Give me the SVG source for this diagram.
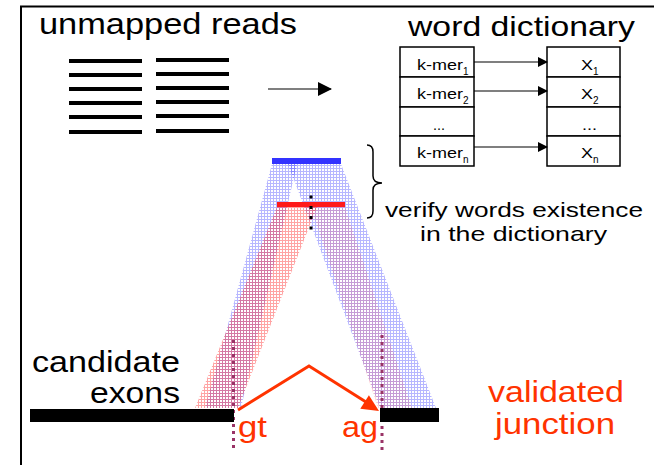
<svg xmlns="http://www.w3.org/2000/svg" width="654" height="465" viewBox="0 0 654 465">
<style>
.t{font-family:"Liberation Sans",Arial,sans-serif;fill:#000}
.r{fill:#ff3300}
.box{fill:#fff;stroke:#000;stroke-width:1.5}
.read{stroke:#000;stroke-width:4}
.ln{stroke:#000;stroke-width:1.2;fill:none}
.pd{stroke:#993366;stroke-width:3;stroke-dasharray:3 4;fill:none}
</style>
<defs>
<pattern id="hb" width="3" height="3" patternUnits="userSpaceOnUse"><path d="M0 0.5H3M0.5 0V3" stroke="#3030ff" stroke-width="1" opacity="0.35"/></pattern>
<pattern id="hr" width="3" height="3" patternUnits="userSpaceOnUse"><path d="M0 0.5H3M0.5 0V3" stroke="#ff1a1a" stroke-width="1" opacity="0.4"/></pattern>
<pattern id="hp" width="3" height="3" patternUnits="userSpaceOnUse"><path d="M0 0.5H3M0.5 0V3" stroke="#ff3030" stroke-width="1" opacity="0.2"/></pattern>
<marker id="ah" markerWidth="10" markerHeight="10" refX="9" refY="5" orient="auto" markerUnits="userSpaceOnUse"><path d="M0,0 L10,5 L0,10 Z" fill="#000"/></marker>
<marker id="ah2" markerWidth="14" markerHeight="14" refX="13" refY="7" orient="auto" markerUnits="userSpaceOnUse"><path d="M0,0 L14,7 L0,14 Z" fill="#000"/></marker>
</defs>

<g id="frame">
<line x1="21" y1="6" x2="21" y2="465" stroke="#000" stroke-width="2"/>
<line x1="20" y1="6.5" x2="654" y2="6.5" stroke="#000" stroke-width="2"/>
</g>

<g id="unmapped-reads">
<text class="t" x="39" y="34" font-size="29" textLength="258" lengthAdjust="spacingAndGlyphs">unmapped reads</text>
<g class="read">
<line x1="69" y1="61" x2="142" y2="61"/><line x1="69" y1="75" x2="142" y2="75"/><line x1="69" y1="89" x2="142" y2="89"/>
<line x1="69" y1="103" x2="142" y2="103"/><line x1="69" y1="117" x2="142" y2="117"/><line x1="69" y1="132" x2="142" y2="132"/>
<line x1="156" y1="60" x2="229" y2="60"/><line x1="156" y1="74" x2="229" y2="74"/><line x1="156" y1="88" x2="229" y2="88"/>
<line x1="156" y1="102" x2="229" y2="102"/><line x1="156" y1="116" x2="229" y2="116"/><line x1="156" y1="131" x2="229" y2="131"/>
</g>
</g>

<g id="word-dictionary">
<text class="t" x="408" y="36" font-size="28" textLength="227" lengthAdjust="spacingAndGlyphs">word dictionary</text>
<rect class="box" x="400" y="47" width="74" height="30"/>
<rect class="box" x="400" y="77" width="74" height="30"/>
<rect class="box" x="400" y="107" width="74" height="29"/>
<rect class="box" x="400" y="136" width="74" height="30"/>
<rect class="box" x="547" y="47" width="73" height="30"/>
<rect class="box" x="547" y="77" width="73" height="30"/>
<rect class="box" x="547" y="107" width="73" height="29"/>
<rect class="box" x="547" y="136" width="73" height="30"/>
<g class="t" font-size="15">
<text x="417" y="70" textLength="46" lengthAdjust="spacingAndGlyphs">k-mer</text><text x="463" y="75" font-size="10">1</text>
<text x="417" y="99" textLength="46" lengthAdjust="spacingAndGlyphs">k-mer</text><text x="463" y="104" font-size="10">2</text>
<text x="433" y="130" textLength="12" lengthAdjust="spacingAndGlyphs">...</text>
<text x="417" y="158" textLength="46" lengthAdjust="spacingAndGlyphs">k-mer</text><text x="463" y="163" font-size="10">n</text>
<text x="581" y="70" textLength="12" lengthAdjust="spacingAndGlyphs">X</text><text x="593" y="75" font-size="10">1</text>
<text x="581" y="99" textLength="12" lengthAdjust="spacingAndGlyphs">X</text><text x="593" y="104" font-size="10">2</text>
<text x="582" y="130" textLength="15" lengthAdjust="spacingAndGlyphs">...</text>
<text x="581" y="158" textLength="12" lengthAdjust="spacingAndGlyphs">X</text><text x="593" y="163" font-size="10">n</text>
</g>
</g>

<g id="projection">
<polygon points="272,164 297,164 241,408 205,408" fill="url(#hb)"/>
<polygon points="288,164 341,164 436,408 380,408" fill="url(#hb)"/>
<polygon points="277,207 317,207 238,408 195,408" fill="url(#hr)"/>
<polygon points="311,207 345,207 412,408 378,408" fill="url(#hp)"/>
</g>

<g id="read-bars">
<rect x="272" y="158" width="69" height="6" fill="#3333ff"/>
<rect x="277" y="202" width="68" height="5" fill="#ff1a1a"/>
<g fill="#000">
<rect x="309.5" y="195.5" width="3" height="3"/>
<rect x="309.5" y="206" width="3" height="3"/>
<rect x="309.5" y="216" width="3" height="3"/>
<rect x="309.5" y="226.5" width="3" height="3"/>
</g>
</g>

<g id="brace">
<path d="M367,145 Q373,145 373,152 L373,176 Q373,183 382,183 Q373,183 373,190 L373,211 Q373,218 367,218" fill="none" stroke="#000" stroke-width="1.5"/>
<text class="t" x="385" y="217" font-size="21" textLength="258" lengthAdjust="spacingAndGlyphs">verify words existence</text>
<text class="t" x="420" y="241" font-size="21" textLength="187" lengthAdjust="spacingAndGlyphs">in the dictionary</text>
</g>

<g id="exons">
<line class="pd" x1="233.5" y1="340" x2="233.5" y2="452"/>
<line class="pd" x1="382" y1="335" x2="382" y2="452"/>
<rect x="30" y="409" width="204" height="13" fill="#000"/>
<rect x="380" y="408" width="59" height="14" fill="#000"/>
<text class="t" x="32" y="372" font-size="30" textLength="148" lengthAdjust="spacingAndGlyphs">candidate</text>
<text class="t" x="90" y="403" font-size="30" textLength="90" lengthAdjust="spacingAndGlyphs">exons</text>
<text class="t r" x="238" y="437" font-size="30" textLength="29" lengthAdjust="spacingAndGlyphs">gt</text>
<text class="t r" x="342" y="437" font-size="30" textLength="36" lengthAdjust="spacingAndGlyphs">ag</text>
</g>

<g id="junction">
<text class="t r" x="488" y="402" font-size="30" textLength="136" lengthAdjust="spacingAndGlyphs">validated</text>
<text class="t r" x="495" y="434" font-size="30" textLength="120" lengthAdjust="spacingAndGlyphs">junction</text>
</g>

<g id="connectors">
<line class="ln" x1="268" y1="89" x2="331" y2="89" marker-end="url(#ah2)"/>
<line class="ln" x1="474" y1="62" x2="547" y2="62" marker-end="url(#ah)"/>
<line class="ln" x1="474" y1="91" x2="547" y2="91" marker-end="url(#ah)"/>
<line class="ln" x1="474" y1="147" x2="547" y2="147" marker-end="url(#ah)"/>
<polyline points="238,410 309,366 366,402" fill="none" stroke="#ff3300" stroke-width="3"/>
<polygon points="379,411 360.3,408.8 368.9,395.2" fill="#ff3300"/>
</g>
</svg>
